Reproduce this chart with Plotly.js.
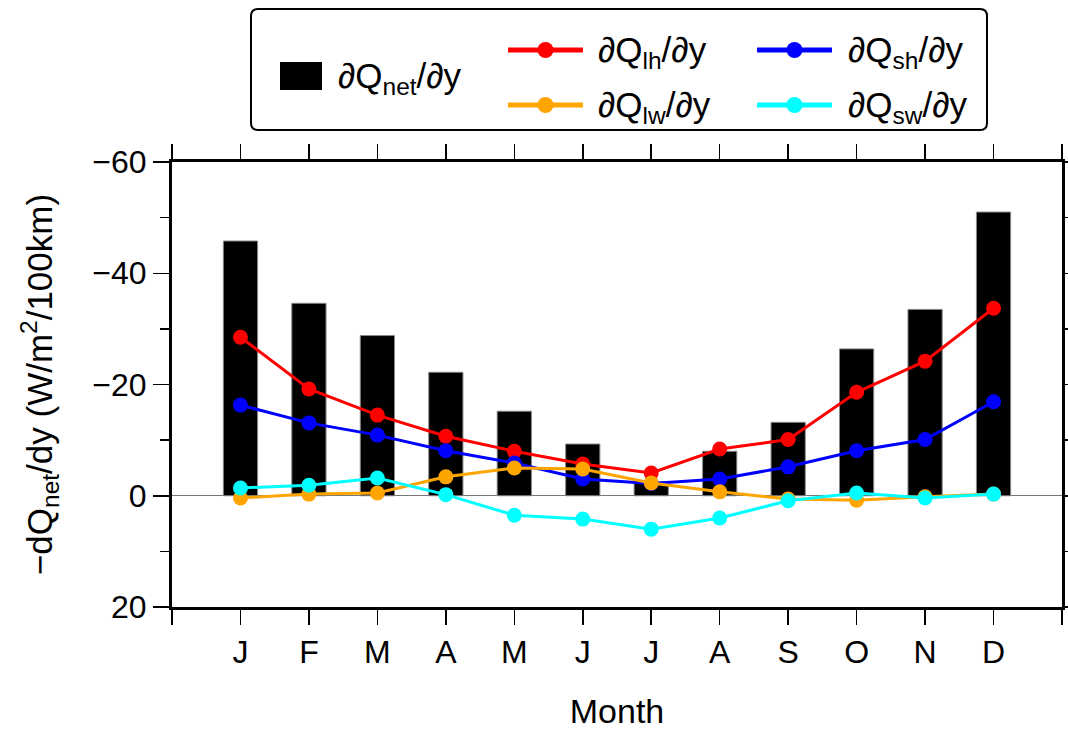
<!DOCTYPE html>
<html><head><meta charset="utf-8">
<script src="https://cdn.plot.ly/plotly-3.0.1.min.js"></script>
<style>html,body{margin:0;padding:0;background:#fff;}#chart{width:1068px;height:733px;}</style>
</head><body><div id="chart"></div>
<script>
const months = ['J','F','M','A','M','J','J','A','S','O','N','D'];
const monthIndex = [1,2,3,4,5,6,7,8,9,10,11,12];
const qNet = [-45.8,-34.6,-28.8,-22.2,-15.2,-9.3,-2.5,-8.0,-13.2,-26.4,-33.5,-51.0];
const qLh  = [-28.5,-19.2,-14.5,-10.7,-8.0,-5.7,-4.1,-8.4,-10.1,-18.6,-24.2,-33.7];
const qSh  = [-16.3,-13.1,-10.9,-8.1,-5.9,-3.0,-2.2,-3.0,-5.2,-8.1,-10.1,-16.9];
const qLw  = [0.4,-0.3,-0.5,-3.4,-5.0,-4.8,-2.3,-0.7,0.6,0.8,0.2,-0.3];
const qSw  = [-1.4,-1.9,-3.2,-0.2,3.5,4.2,6.0,4.0,0.9,-0.5,0.4,-0.3];
const names = ['∂Q<sub>net</sub>/∂y','∂Q<sub>lh</sub>/∂y','∂Q<sub>sh</sub>/∂y','∂Q<sub>lw</sub>/∂y','∂Q<sub>sw</sub>/∂y'];
const colors = ['#000000','#ff0000','#0000ff','#ffa500','#00ffff'];

const FONT = 'Liberation Sans, Arial, Helvetica, sans-serif';
const W = 1068, H = 733, L = 172, R = 1062, T = 162, B = 607;
const px = x => (x - L) / (R - L);
const py = y => (B - y) / (B - T);

function lineTrace(y, i) {
  return {type:'scatter', mode:'lines+markers', x: monthIndex, y: y, name: names[i],
    line:{color: colors[i], width:3}, marker:{color: colors[i], size:15}, showlegend:false, cliponaxis:false};
}
const traces = [
  {type:'bar', x: monthIndex, y: qNet, width:0.5, name: names[0],
   marker:{color:'#000', line:{color:'#888', width:1}}, showlegend:false},
  lineTrace(qLh,1), lineTrace(qSh,2), lineTrace(qLw,3), lineTrace(qSw,4)
];

function roundRect(x0, y0, x1, y1, r) {
  const P = (x, y) => px(x) + ',' + py(y);
  return 'M' + P(x0 + r, y0) + ' L' + P(x1 - r, y0) + ' Q' + P(x1, y0) + ' ' + P(x1, y0 + r) +
    ' L' + P(x1, y1 - r) + ' Q' + P(x1, y1) + ' ' + P(x1 - r, y1) +
    ' L' + P(x0 + r, y1) + ' Q' + P(x0, y1) + ' ' + P(x0, y1 - r) +
    ' L' + P(x0, y0 + r) + ' Q' + P(x0, y0) + ' ' + P(x0 + r, y0) + ' Z';
}

const shapes = [
  {type:'path', xref:'paper', yref:'paper', path: roundRect(251, 9, 987, 130, 7),
   line:{color:'#000', width:2}, fillcolor:'rgba(0,0,0,0)'},
  {type:'rect', xref:'paper', yref:'paper', x0:px(280), x1:px(322), y0:py(62), y1:py(90),
   line:{width:0}, fillcolor:'#000'}
];
const LF = 35;
const annotations = [
  {xref:'paper', yref:'paper', x:px(336), y:py(78), xanchor:'left', yanchor:'middle', text:names[0], showarrow:false, font:{size:LF, color:'#000', family:FONT}}
];
const legLines = [[1,508,583,50,596],[3,508,583,105,596],[2,757,832,50,846],[4,757,832,105,846]];
legLines.forEach(([i,x0,x1,y,tx]) => {
  shapes.push({type:'line', xref:'paper', yref:'paper', x0:px(x0), x1:px(x1), y0:py(y), y1:py(y), line:{color:colors[i], width:5}});
  const cx = (x0+x1)/2, r = 8;
  shapes.push({type:'circle', xref:'paper', yref:'paper', x0:px(cx-r), x1:px(cx+r), y0:py(y+r), y1:py(y-r), line:{width:0}, fillcolor:colors[i]});
  annotations.push({xref:'paper', yref:'paper', x:px(tx), y:py(y+2), xanchor:'left', yanchor:'middle', text:names[i], showarrow:false, font:{size:LF, color:'#000', family:FONT}});
});

const layout = {
  width:W, height:H, margin:{l:L, r:W-R, t:T, b:H-B},
  paper_bgcolor:'#fff', plot_bgcolor:'#fff', showlegend:false,
  font:{family:FONT, color:'#000', size:32},
  xaxis:{range:[0,13], tickmode:'array', tickvals:monthIndex, ticktext:months,
    ticks:'outside', ticklen:15, tickwidth:1.5, tickcolor:'#000', showline:true, linewidth:3, linecolor:'#000',
    mirror:'allticks', showgrid:false, zeroline:false, tickfont:{size:32},
    minor:{tick0:0, dtick:1, ticklen:15, tickwidth:1.5, tickcolor:'#000', ticks:'outside', showgrid:false},
    title:{text:'Month', font:{size:34}, standoff:30}},
  yaxis:{range:[20,-60], tickmode:'linear', tick0:-60, dtick:20, ticks:'outside', ticklen:16, tickwidth:1.5, tickcolor:'#000',
    showline:true, linewidth:3, linecolor:'#000', mirror:'allticks', showgrid:false,
    zeroline:true, zerolinecolor:'#777', zerolinewidth:1, tickfont:{size:32},
    minor:{dtick:10, ticklen:9, tickwidth:1.5, tickcolor:'#000', ticks:'outside', showgrid:false},
    title:{text:'−dQ<sub>net</sub>/dy (W/m<sup>2</sup>/100km)', font:{size:35}, standoff:30}},
  shapes: shapes, annotations: annotations
};
Plotly.newPlot('chart', traces, layout, {displayModeBar:false, staticPlot:true});
</script></body></html>
